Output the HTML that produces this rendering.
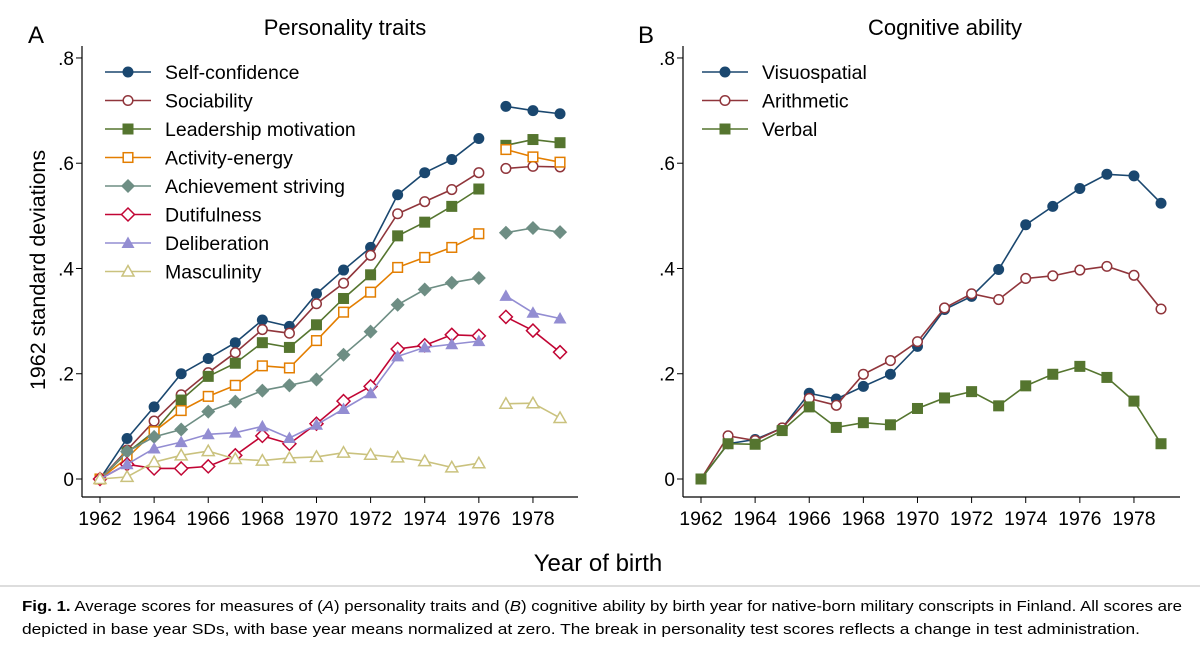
<!DOCTYPE html>
<html><head><meta charset="utf-8"><style>
body{margin:0;background:#fff;width:1200px;height:651px;overflow:hidden;font-family:"Liberation Sans",sans-serif}
svg text{font-family:"Liberation Sans",sans-serif}
</style></head><body>
<svg id="chart" width="1200" height="651" xmlns="http://www.w3.org/2000/svg">
<text x="28" y="43" font-size="24">A</text>
<text x="345" y="35" font-size="22" text-anchor="middle">Personality traits</text>
<text x="638" y="43" font-size="24">B</text>
<text x="945" y="35" font-size="22" text-anchor="middle">Cognitive ability</text>
<text transform="translate(45,270) rotate(-90)" font-size="21.5" text-anchor="middle">1962 standard deviations</text>
<text x="598" y="571" font-size="24" text-anchor="middle">Year of birth</text>
<line x1="0" y1="586" x2="1200" y2="586" stroke="#bbb" stroke-width="1"/>
<text x="22" y="611" font-size="15" textLength="1160" lengthAdjust="spacingAndGlyphs"><tspan font-weight="bold">Fig. 1.</tspan>    Average scores for measures of (<tspan font-style="italic">A</tspan>) personality traits and (<tspan font-style="italic">B</tspan>) cognitive ability by birth year for native-born military conscripts in Finland. All scores are</text>
<text x="22" y="634" font-size="15" textLength="1118" lengthAdjust="spacingAndGlyphs">depicted in base year SDs, with base year means normalized at zero. The break in personality test scores reflects a change in test administration.</text>
<g id="pa"></g><g id="pb"></g>
</svg>
<script>
const years=[1962,1963,1964,1965,1966,1967,1968,1969,1970,1971,1972,1973,1974,1975,1976,1977,1978,1979];
const xTicks=[1962,1964,1966,1968,1970,1972,1974,1976,1978];
const yTicks=[0,0.2,0.4,0.6,0.8];
const yTickLabels=["0",".2",".4",".6",".8"];
const selfConfidence=[0,.077,.137,.200,.229,.259,.302,.290,.352,.397,.440,.540,.582,.607,.647,.708,.700,.694];
const sociability=[0,.055,.110,.160,.202,.240,.284,.277,.333,.372,.425,.504,.527,.550,.582,.590,.594,.593];
const leadership=[0,.050,.090,.150,.195,.220,.259,.250,.293,.343,.388,.462,.488,.518,.551,.634,.645,.639];
const activity=[0,.040,.090,.130,.157,.178,.215,.211,.263,.317,.355,.402,.421,.440,.466,.626,.612,.602];
const achievement=[0,.052,.080,.094,.128,.147,.168,.178,.189,.236,.280,.331,.360,.373,.382,.468,.477,.469];
const dutifulness=[0,.028,.020,.020,.024,.045,.082,.067,.105,.148,.176,.247,.254,.274,.272,.308,.282,.241];
const deliberation=[0,.028,.058,.070,.085,.088,.100,.078,.103,.133,.163,.233,.250,.256,.262,.348,.316,.305];
const masculinity=[0,.004,.032,.045,.053,.038,.035,.040,.042,.050,.046,.041,.034,.022,.030,.143,.144,.116];
const visuospatial=[0,.067,.075,.097,.163,.152,.176,.199,.252,.322,.347,.398,.483,.518,.552,.579,.576,.524];
const arithmetic=[0,.082,.073,.097,.153,.140,.199,.225,.261,.325,.352,.341,.381,.386,.397,.404,.387,.323];
const verbal=[0,.067,.066,.092,.137,.098,.107,.103,.134,.154,.166,.139,.177,.199,.214,.193,.148,.067];
const breakYear=1976;
const NS="http://www.w3.org/2000/svg";
function mk(tag,attrs,parent){const e=document.createElementNS(NS,tag);for(const k in attrs)e.setAttribute(k,attrs[k]);parent.appendChild(e);return e;}
function marker(g,type,x,y,c){
 let e;const r=5.5;
 if(type==='dot')e=mk('circle',{cx:x,cy:y,r:r,fill:c},g);
 else if(type==='ring')e=mk('circle',{cx:x,cy:y,r:r-0.7,fill:'#fff',stroke:c,'stroke-width':1.5},g);
 else if(type==='sq')e=mk('rect',{x:x-r,y:y-r,width:2*r,height:2*r,fill:c},g);
 else if(type==='osq')e=mk('rect',{x:x-r+0.7,y:y-r+0.7,width:2*r-1.4,height:2*r-1.4,fill:'#fff',stroke:c,'stroke-width':1.5},g);
 else if(type==='dia')e=mk('polygon',{points:`${x},${y-7} ${x+7},${y} ${x},${y+7} ${x-7},${y}`,fill:c},g);
 else if(type==='odia')e=mk('polygon',{points:`${x},${y-6.5} ${x+6.5},${y} ${x},${y+6.5} ${x-6.5},${y}`,fill:'#fff',stroke:c,'stroke-width':1.5},g);
 else if(type==='tri')e=mk('polygon',{points:`${x},${y-6.5} ${x+6.5},${y+5} ${x-6.5},${y+5}`,fill:c},g);
 else e=mk('polygon',{points:`${x},${y-6} ${x+6},${y+4.5} ${x-6},${y+4.5}`,fill:'#fff',stroke:c,'stroke-width':1.5},g);
 
 
}
function panel(gid,x0,xr,series,brk,legX){
 const g=document.getElementById(gid);
 const X=yr=>x0+18+(yr-1962)*27.06;
 const Y=v=>479-v*526.3;
 mk('line',{x1:x0,y1:46,x2:x0,y2:497,stroke:'#000','stroke-width':1.2},g);
 mk('line',{x1:x0,y1:497,x2:xr,y2:497,stroke:'#000','stroke-width':1.2},g);
 yTicks.forEach((t,i)=>{mk('line',{x1:x0-6,y1:Y(t),x2:x0,y2:Y(t),stroke:'#000'},g);
  const tx=mk('text',{x:x0-8,y:Y(t)+7,'font-size':19,'text-anchor':'end'},g);tx.textContent=yTickLabels[i];
  });
 xTicks.forEach(t=>{mk('line',{x1:X(t),y1:497,x2:X(t),y2:503,stroke:'#000'},g);
  const tx=mk('text',{x:X(t),y:525,'font-size':19.5,'text-anchor':'middle'},g);tx.textContent=t;
  });
 series.forEach((s,si)=>{
  const sg=mk('g',{},g);
  
  
  const segs=brk?[[0,years.indexOf(breakYear)],[years.indexOf(breakYear)+1,years.length-1]]:[[0,years.length-1]];
  segs.forEach(([a,b])=>{let p=[];for(let i=a;i<=b;i++)p.push(X(years[i])+','+Y(s.v[i]));
   mk('polyline',{points:p.join(' '),fill:'none',stroke:s.c,'stroke-width':1.6},sg);});
  years.forEach((yr,i)=>marker(sg,s.m,X(yr),Y(s.v[i]),s.c));
  const ly=72+si*28.5;
  const lg=mk('g',{},g);
  
  
  mk('line',{x1:legX,y1:ly,x2:legX+46,y2:ly,stroke:s.c,'stroke-width':1.6},lg);
  marker(lg,s.m,legX+23,ly,s.c);
  const t=mk('text',{x:legX+60,y:ly+7,'font-size':19.5},lg);t.textContent=s.name;
 });
}
panel('pa',82,578,[
 {name:'Self-confidence',v:selfConfidence,c:'#1a476f',m:'dot'},
 {name:'Sociability',v:sociability,c:'#90353b',m:'ring'},
 {name:'Leadership motivation',v:leadership,c:'#55752f',m:'sq'},
 {name:'Activity-energy',v:activity,c:'#e37e00',m:'osq'},
 {name:'Achievement striving',v:achievement,c:'#6e8e84',m:'dia'},
 {name:'Dutifulness',v:dutifulness,c:'#c10534',m:'odia'},
 {name:'Deliberation',v:deliberation,c:'#938dd2',m:'tri'},
 {name:'Masculinity',v:masculinity,c:'#cac27e',m:'otri'}],true,105);
panel('pb',683,1180,[
 {name:'Visuospatial',v:visuospatial,c:'#1a476f',m:'dot'},
 {name:'Arithmetic',v:arithmetic,c:'#90353b',m:'ring'},
 {name:'Verbal',v:verbal,c:'#55752f',m:'sq'}],false,702);
</script>
</body></html>
